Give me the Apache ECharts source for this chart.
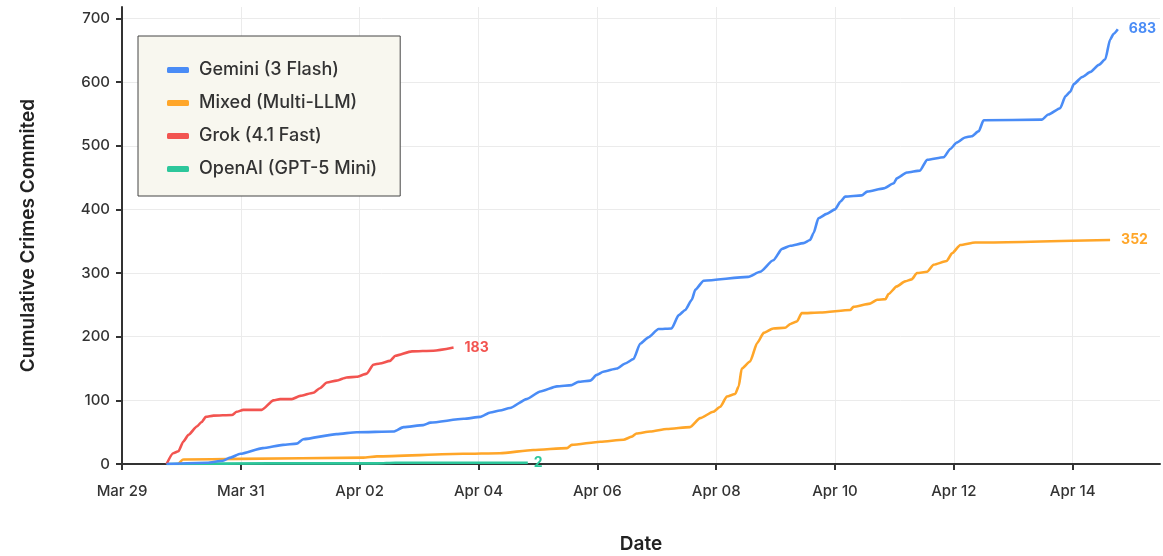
<!DOCTYPE html>
<html><head><meta charset="utf-8">
<script src="https://cdn.jsdelivr.net/npm/echarts@6/dist/echarts.min.js"></script>
<style>html,body{margin:0;padding:0;background:#fff}#c{width:1163px;height:556px}</style>
</head><body><div id="c"></div><script>
// x values: days elapsed since Mar 29 00:00
const tickLabels = ['Mar 29','Mar 31','Apr 02','Apr 04','Apr 06','Apr 08','Apr 10','Apr 12','Apr 14'];
const seriesNames = ['Gemini (3 Flash)','Mixed (Multi-LLM)','Grok (4.1 Fast)','OpenAI (GPT-5 Mini)'];
const seriesColors = ['#4a8cf6','#ffa629','#f25450','#2dc79b'];

const geminiDays = [0.75,1.43,1.70,1.82,1.99,2.37,2.71,2.94,3.05,3.61,3.95,4.57,4.74,5.07,5.19,5.75,6.03,6.20,6.36,6.53,6.81,7.04,7.32,7.57,7.68,7.88,7.99,8.10,8.33,8.47,8.61,8.72,8.86,9.03,9.25,9.37,9.48,9.59,9.65,9.79,10.54,10.74,10.96,11.11,11.25,11.47,11.58,11.64,11.72,11.86,12.00,12.09,12.17,12.45,12.54,12.82,12.99,13.04,13.21,13.43,13.55,13.83,13.94,14.05,14.19,14.30,14.42,14.50,15.48,15.59,15.79,15.88,15.96,16.02,16.16,16.30,16.44,16.55,16.63,16.69,16.76];
const geminiVals = [0,2,5,10,16,25,30,32,39,47,50,51,58,61,65,71,74,81,84,88,102,114,122,124,129,131,140,145,150,158,165,189,199,212,213,234,242,258,274,288,294,302,320,338,343,347,352,363,386,393,400,412,420,422,428,433,441,449,458,461,478,482,495,505,513,515,523,540,541,549,559,578,585,597,608,616,627,636,667,676,683];

const mixedDays = [0.95,1.03,1.99,4.06,4.29,5.74,6.36,6.92,7.49,7.57,8.05,8.44,8.58,8.66,8.89,9.17,9.56,9.73,9.95,10.07,10.18,10.32,10.38,10.43,10.57,10.69,10.80,10.96,11.16,11.25,11.36,11.44,11.75,12.26,12.31,12.59,12.71,12.85,12.90,13.04,13.18,13.29,13.38,13.55,13.66,13.88,13.97,14.11,14.36,16.63];
const mixedVals = [0,7,8,10,12,16,17,22,25,30,35,38,43,48,51,55,58,72,82,90,106,110,122,150,161,190,206,213,214,220,224,237,238,242,247,252,258,259,267,279,287,290,300,302,313,319,331,344,348,352];

const grokDays = [0.75,0.86,0.95,1.03,1.12,1.26,1.34,1.41,1.54,1.85,1.93,2.04,2.35,2.55,2.66,2.86,3.00,3.22,3.33,3.45,3.61,3.78,3.95,4.12,4.23,4.34,4.51,4.60,4.88,5.24,5.58];
const grokVals = [0,17,20,35,46,59,66,74,76,77,82,85,85,100,102,102,107,112,119,128,131,136,137,142,156,158,162,170,177,178,183];

const openaiDays = [0.75,2.50,4.30,4.60,6.83];
const openaiVals = [0,1,1,2,2];

const allDays = [geminiDays, mixedDays, grokDays, openaiDays];
const allVals = [geminiVals, mixedVals, grokVals, openaiVals];

const FONT = 'Inter, "Noto Sans", sans-serif';
const chart = echarts.init(document.getElementById('c'), null, {renderer: 'canvas'});

const series = seriesNames.map((name, i) => ({
  name: name,
  type: 'line',
  data: allDays[i].map((d, k) => [d, allVals[i][k]]),
  showSymbol: false,
  smooth: 0.2,
  smoothMonotone: 'x',
  color: seriesColors[i],
  lineStyle: {width: 2.6, color: seriesColors[i]},
  endLabel: {
    show: true,
    formatter: p => String(p.value[1]),
    color: seriesColors[i],
    fontFamily: FONT,
    fontWeight: 'bold',
    fontSize: 14,
    distance: i === 3 ? 6 : 11
  },
  emphasis: {disabled: true},
  z: 3 + (3 - i)
}));

chart.setOption({
  animation: false,
  backgroundColor: '#ffffff',
  textStyle: {fontFamily: FONT},
  grid: {left: 122, right: 3, top: 7, bottom: 92, containLabel: false, outerBoundsMode: 'none'},
  legend: {
    orient: 'vertical',
    left: 138, top: 36,
    data: seriesNames,
    backgroundColor: '#f8f7ef',
    borderColor: '#444',
    borderWidth: 1,
    padding: [23, 23, 16, 29],
    itemGap: 11,
    itemWidth: 22,
    itemHeight: 6,
    icon: 'roundRect',
    textStyle: {fontFamily: FONT, fontSize: 18, fontWeight: 500, color: '#333', lineHeight: 22, padding: [0, 0, 0, 5]}
  },
  xAxis: {
    type: 'value',
    min: 0, max: 17.47, interval: 2,
    name: 'Date',
    nameLocation: 'middle',
    nameGap: 71,
    nameTextStyle: {fontFamily: FONT, fontSize: 19, fontWeight: 600, color: '#222'},
    axisLine: {show: true, lineStyle: {color: '#333', width: 2}},
    axisTick: {show: true, length: 6, lineStyle: {color: '#333', width: 2}},
    axisLabel: {
      fontFamily: FONT, fontSize: 15, fontWeight: 500, color: '#333', margin: 20,
      showMaxLabel: false,
      formatter: v => { const k = Math.round(v / 2); return (Math.abs(v - k * 2) < 1e-6 && k < tickLabels.length) ? tickLabels[k] : ''; }
    },
    splitLine: {show: true, showMaxLine: false, lineStyle: {color: '#ebebeb', width: 1}}
  },
  yAxis: {
    type: 'value',
    min: 0, max: 718, interval: 100,
    name: 'Cumulative Crimes Commited',
    nameLocation: 'middle',
    nameGap: 84,
    nameTextStyle: {fontFamily: FONT, fontSize: 19, fontWeight: 600, color: '#222'},
    axisLine: {show: true, lineStyle: {color: '#333', width: 2}},
    axisTick: {show: true, length: 6, lineStyle: {color: '#333', width: 2}},
    axisLabel: {fontFamily: FONT, fontSize: 15, fontWeight: 500, color: '#333', margin: 12, showMaxLabel: false,
      formatter: v => (v % 100 === 0 ? String(v) : '')},
    splitLine: {show: true, showMaxLine: false, lineStyle: {color: '#ebebeb', width: 1}}
  },
  series: series
});
</script></body></html>
